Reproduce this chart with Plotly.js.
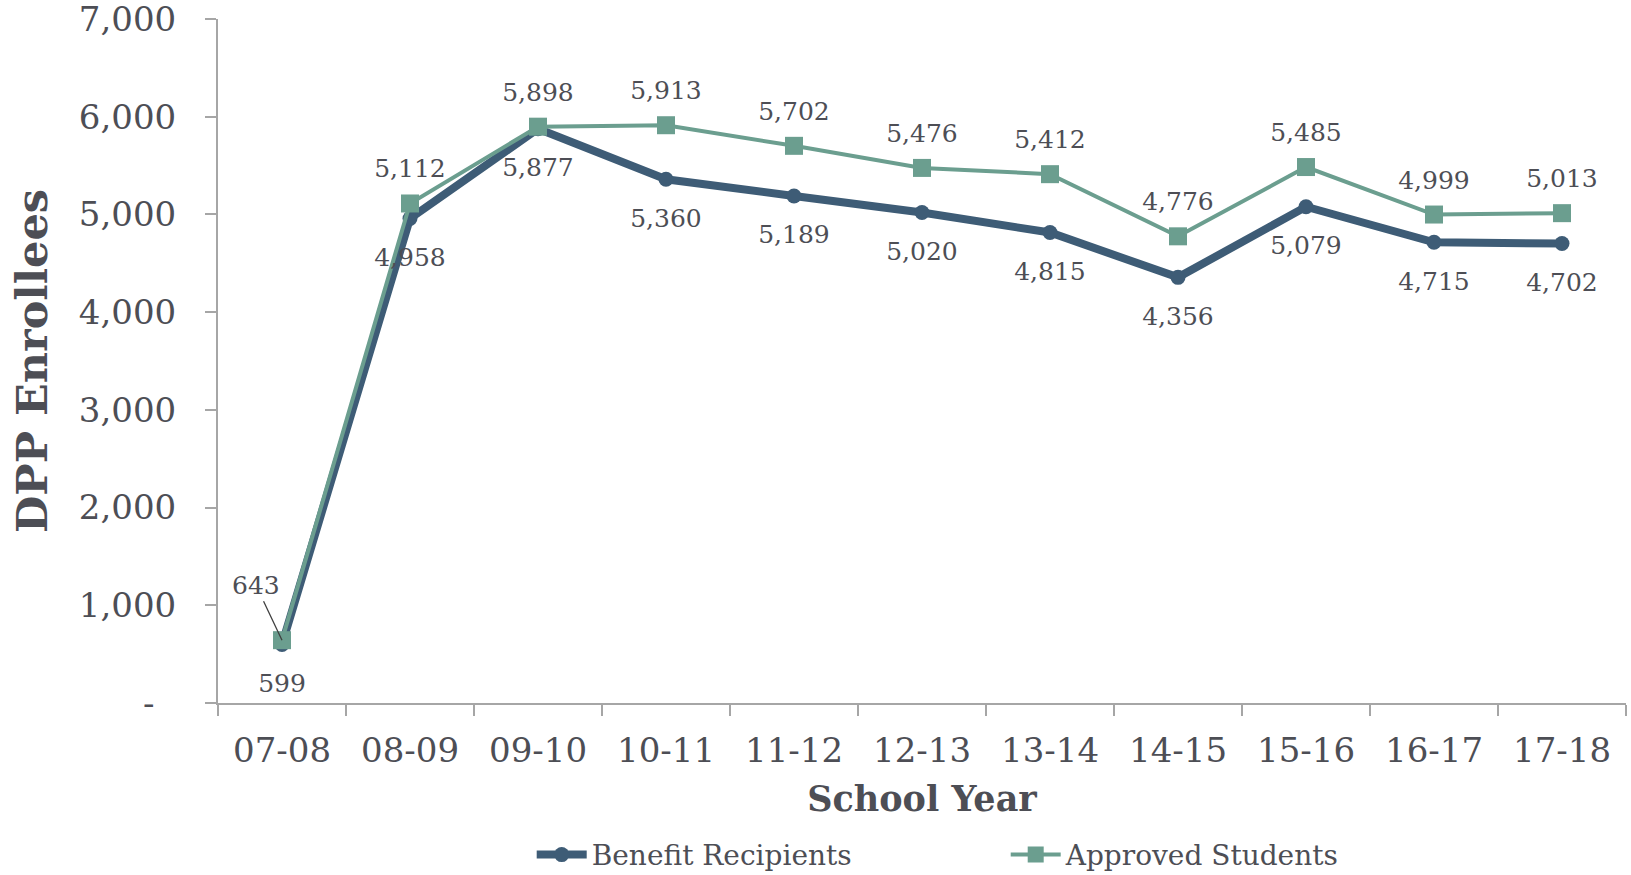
<!DOCTYPE html>
<html>
<head>
<meta charset="utf-8">
<script src="https://cdn.plot.ly/plotly-3.0.1.min.js"></script>
<style>html,body{margin:0;padding:0;background:#fff;}#chart{width:1631px;height:875px;}</style>
</head>
<body>
<div id="chart"></div>
<script>
const years = ["07-08","08-09","09-10","10-11","11-12","12-13","13-14","14-15","15-16","16-17","17-18"];
const benefitRecipients = [599, 4958, 5877, 5360, 5189, 5020, 4815, 4356, 5079, 4715, 4702];
const approvedStudents = [643, 5112, 5898, 5913, 5702, 5476, 5412, 4776, 5485, 4999, 5013];
const yTickVals = [0, 1000, 2000, 3000, 4000, 5000, 6000, 7000];
const yTickText = ["-\u00a0\u00a0", "1,000", "2,000", "3,000", "4,000", "5,000", "6,000", "7,000"];

const FONT = "DejaVu Serif";
const TXT = "#4d4e55";
const BLUE = "#3e5c76";
const GREEN = "#6b9e8f";
const fmt = v => v.toLocaleString("en-US");

const traces = [
  {
    x: years, y: benefitRecipients, name: "Benefit Recipients", type: "scatter",
    mode: "lines+markers", line: {color: BLUE, width: 8}, marker: {symbol: "circle", size: 15, color: BLUE},
    hoverinfo: "skip"
  },
  {
    x: years, y: approvedStudents, name: "Approved Students", type: "scatter",
    mode: "lines+markers", line: {color: GREEN, width: 4}, marker: {symbol: "square", size: 18, color: GREEN},
    hoverinfo: "skip"
  },
  {
    x: years, y: benefitRecipients, type: "scatter", mode: "markers+text", showlegend: false,
    marker: {size: 44, opacity: 0}, text: benefitRecipients.map(fmt), textposition: "bottom center",
    textfont: {family: FONT, size: 25, color: TXT}, hoverinfo: "skip", cliponaxis: false
  },
  {
    x: years.slice(1), y: approvedStudents.slice(1), type: "scatter", mode: "markers+text", showlegend: false,
    marker: {size: 30, opacity: 0}, text: approvedStudents.slice(1).map(fmt), textposition: "top center",
    textfont: {family: FONT, size: 25, color: TXT}, hoverinfo: "skip", cliponaxis: false
  }
];

const layout = {
  width: 1631, height: 875,
  margin: {l: 218, r: 5, t: 19, b: 172, autoexpand: false},
  paper_bgcolor: "#fff", plot_bgcolor: "#fff",
  font: {family: FONT, color: TXT},
  showlegend: true,
  legend: {orientation: "h", x: 0.326, xref: "container", xanchor: "left", y: 0.023, yref: "container", yanchor: "middle",
    font: {family: FONT, size: 28, color: TXT}, itemwidth: 50, tracegroupgap: 0,
    entrywidth: 409, entrywidthmode: "pixels"},
  xaxis: {
    type: "category", range: [-0.5, 10.5], showgrid: false, zeroline: false, automargin: false,
    showline: true, linecolor: "#a6a6a6", linewidth: 2,
    ticks: "outside", tickson: "boundaries", ticklen: 11, tickcolor: "#a6a6a6", tickwidth: 2,
    tickfont: {family: FONT, size: 34, color: TXT}, ticklabelstandoff: 16,
    title: {text: "<b>School Year</b>", font: {family: FONT, size: 35, color: TXT}, standoff: 18}
  },
  yaxis: {
    range: [0, 7000], showgrid: false, zeroline: false, automargin: false,
    showline: true, linecolor: "#a6a6a6", linewidth: 2,
    ticks: "outside", ticklen: 11, tickcolor: "#a6a6a6", tickwidth: 2,
    tickvals: yTickVals, ticktext: yTickText, ticklabeloverflow: "allow",
    tickfont: {family: FONT, size: 34, color: TXT}, ticklabelstandoff: 22,
    title: {text: "<b>DPP Enrollees</b>", font: {family: FONT, size: 43, color: TXT}, standoff: 18}
  },
  annotations: [
    {x: years[0], y: approvedStudents[0], xref: "x", yref: "y", text: fmt(approvedStudents[0]),
     showarrow: true, arrowhead: 0, arrowwidth: 1.3, arrowcolor: "#404040", ax: -26, ay: -55,
     font: {family: FONT, size: 25, color: TXT}, standoff: 0}
  ]
};

Plotly.newPlot("chart", traces, layout, {displayModeBar: false, staticPlot: true});
</script>
</body>
</html>
